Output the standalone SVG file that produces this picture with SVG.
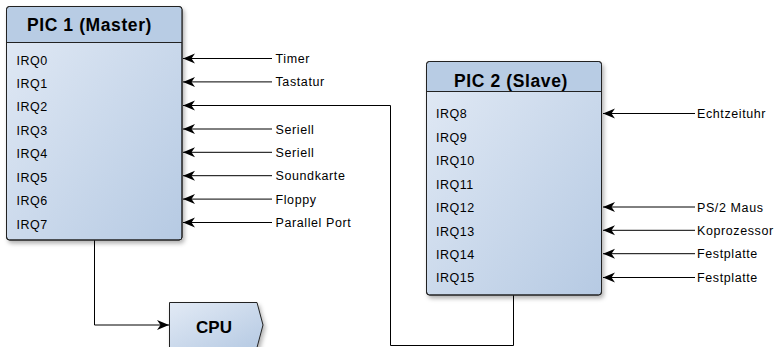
<svg xmlns="http://www.w3.org/2000/svg" width="779" height="347" viewBox="0 0 779 347">
  <style>
    .box { stroke: #222; stroke-width: 1; }
    .body { fill: url(#bodyFill); }
    .head { fill: #b8cce4; }
    .sep { stroke: #222; stroke-width: 1; fill: none; }
    .title { font-family: "Liberation Sans", Arial, sans-serif; font-weight: bold; font-size: 17.5px; letter-spacing: 0.6px; fill: #000; text-anchor: middle; }
    .irq { font-family: "Liberation Sans", Arial, sans-serif; font-size: 12.5px; letter-spacing: 0.5px; fill: #000; }
    .lbl { font-family: "Liberation Sans", Arial, sans-serif; font-size: 12.5px; letter-spacing: 0.6px; fill: #000; }
    .wire { stroke: #000; stroke-width: 1; fill: none; marker-end: url(#arrow); }
  </style>
  <defs>
    <linearGradient id="bodyFill" x1="0" y1="0" x2="1" y2="1">
      <stop offset="0" stop-color="#e2eaf5"/>
      <stop offset="1" stop-color="#b6cae3"/>
    </linearGradient>
    <filter id="shadow" x="-10%" y="-10%" width="130%" height="130%">
      <feDropShadow dx="2" dy="3" stdDeviation="2" flood-color="#000" flood-opacity="0.3"/>
    </filter>
    <marker id="arrow" markerUnits="userSpaceOnUse" markerWidth="13" markerHeight="11" viewBox="0 0 13 11" refX="12" refY="5.5" orient="auto">
      <path d="M0,0.5 L12,5.5 L0,10.5 L3.5,5.5 Z" fill="#000"/>
    </marker>
  </defs>

  <!-- connectors -->
  <g id="connectors">
    <!-- PIC 1 inputs -->
    <path class="wire" d="M272,58.5 H183"/>
    <path class="wire" d="M272,81.9 H183"/>
    <path class="wire" d="M272,129 H183"/>
    <path class="wire" d="M272,152.3 H183"/>
    <path class="wire" d="M272,175.7 H183"/>
    <path class="wire" d="M272,199.1 H183"/>
    <path class="wire" d="M272,222.5 H183"/>
    <!-- cascade: PIC 2 output into IRQ2 -->
    <path class="wire" d="M513.5,295 V345.5 H390.5 V105.5 H183"/>
    <!-- PIC 1 output to CPU -->
    <path class="wire" d="M94.5,240 V325 H169"/>
    <!-- PIC 2 inputs -->
    <path class="wire" d="M695,113.5 H603"/>
    <path class="wire" d="M695,207 H603"/>
    <path class="wire" d="M695,230.3 H603"/>
    <path class="wire" d="M695,253.7 H603"/>
    <path class="wire" d="M695,277.5 H603"/>
  </g>

  <!-- PIC 1 -->
  <g id="pic1">
    <g filter="url(#shadow)">
      <rect class="box body" x="6.5" y="6.5" width="175.5" height="233.5" rx="3"/>
    </g>
    <path class="head" d="M9.5,7 H179 Q181.5,7 181.5,9.5 V42 H7 V9.5 Q7,7 9.5,7 Z"/>
    <rect class="box" x="6.5" y="6.5" width="175.5" height="233.5" rx="3" fill="none"/>
    <line class="sep" x1="6.5" y1="42.5" x2="182" y2="42.5"/>
    <text class="title" x="89.5" y="31">PIC 1 (Master)</text>
    <text class="irq" x="16.5" y="64.5">IRQ0</text>
    <text class="irq" x="16.5" y="87.9">IRQ1</text>
    <text class="irq" x="16.5" y="111.4">IRQ2</text>
    <text class="irq" x="16.5" y="134.8">IRQ3</text>
    <text class="irq" x="16.5" y="158.2">IRQ4</text>
    <text class="irq" x="16.5" y="181.7">IRQ5</text>
    <text class="irq" x="16.5" y="205.1">IRQ6</text>
    <text class="irq" x="16.5" y="228.5">IRQ7</text>
  </g>

  <!-- PIC 1 input labels -->
  <g id="pic1-sources">
    <text class="lbl" x="275.5" y="63">Timer</text>
    <text class="lbl" x="275.5" y="86.4">Tastatur</text>
    <text class="lbl" x="275.5" y="133.5">Seriell</text>
    <text class="lbl" x="275.5" y="156.8">Seriell</text>
    <text class="lbl" x="275.5" y="180.2">Soundkarte</text>
    <text class="lbl" x="275.5" y="203.6">Floppy</text>
    <text class="lbl" x="275.5" y="227">Parallel Port</text>
  </g>

  <!-- PIC 2 -->
  <g id="pic2">
    <g filter="url(#shadow)">
      <rect class="box body" x="426.5" y="61.5" width="175" height="233.5" rx="3"/>
    </g>
    <path class="head" d="M429.5,62 H598.5 Q601,62 601,64.5 V91 H427 V64.5 Q427,62 429.5,62 Z"/>
    <rect class="box" x="426.5" y="61.5" width="175" height="233.5" rx="3" fill="none"/>
    <line class="sep" x1="426.5" y1="91.5" x2="601.5" y2="91.5"/>
    <text class="title" x="511" y="87">PIC 2 (Slave)</text>
    <text class="irq" x="436" y="118.3">IRQ8</text>
    <text class="irq" x="436" y="141.7">IRQ9</text>
    <text class="irq" x="436" y="165.2">IRQ10</text>
    <text class="irq" x="436" y="188.6">IRQ11</text>
    <text class="irq" x="436" y="212">IRQ12</text>
    <text class="irq" x="436" y="235.5">IRQ13</text>
    <text class="irq" x="436" y="258.9">IRQ14</text>
    <text class="irq" x="436" y="282.3">IRQ15</text>
  </g>

  <!-- PIC 2 input labels -->
  <g id="pic2-sources">
    <text class="lbl" x="697" y="118">Echtzeituhr</text>
    <text class="lbl" x="697" y="211.5">PS/2 Maus</text>
    <text class="lbl" x="697" y="234.8">Koprozessor</text>
    <text class="lbl" x="697" y="258.2">Festplatte</text>
    <text class="lbl" x="697" y="282">Festplatte</text>
  </g>

  <!-- CPU -->
  <g id="cpu">
    <polygon class="box body" points="169.5,302.5 257,302.5 263,325 257,347.5 169.5,347.5" filter="url(#shadow)"/>
    <text class="title" x="214" y="332.5" style="font-size:17px;letter-spacing:0">CPU</text>
  </g>
</svg>
